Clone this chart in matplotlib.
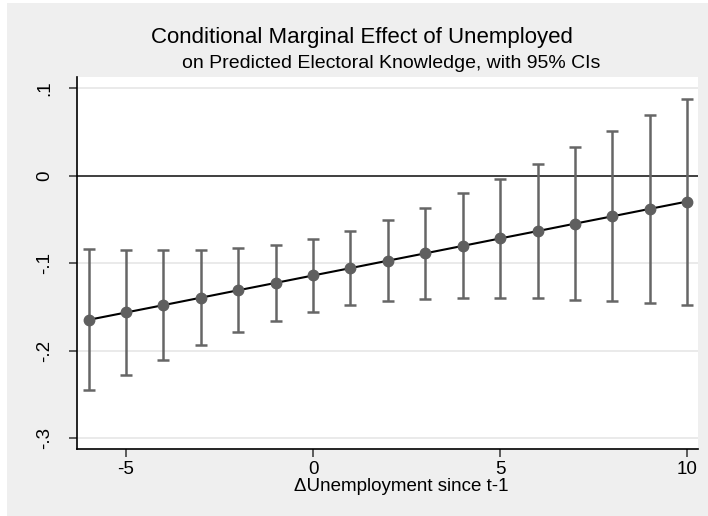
import matplotlib
matplotlib.use("Agg")
import matplotlib.pyplot as plt
from matplotlib.patches import Rectangle

plt.rcParams['font.family'] = ['Liberation Sans', 'DejaVu Sans']

# Change in unemployment since t-1
unemp_change = [-6, -5, -4, -3, -2, -1, 0, 1, 2, 3, 4, 5, 6, 7, 8, 9, 10]
# Marginal effect of being unemployed on predicted electoral knowledge
effect = [-0.1646, -0.1562, -0.1478, -0.1393, -0.1308, -0.1224, -0.1139, -0.1055,
          -0.0970, -0.0886, -0.0801, -0.0716, -0.0632, -0.0547, -0.0463, -0.0378, -0.0294]
ci_low = [-0.2453, -0.2278, -0.2106, -0.1939, -0.1790, -0.1657, -0.1554, -0.1482,
          -0.1431, -0.1409, -0.1398, -0.1398, -0.1402, -0.1417, -0.1432, -0.1451, -0.1471]
ci_high = [-0.0838, -0.0846, -0.0850, -0.0846, -0.0827, -0.0789, -0.0724, -0.0632,
           -0.0507, -0.0366, -0.0202, -0.0038, 0.0137, 0.0324, 0.0514, 0.0697, 0.0880]

xticks = [-5, 0, 5, 10]
yticks = [0.1, 0, -0.1, -0.2, -0.3]
yticklabels = [".1", "0", "-.1", "-.2", "-.3"]

W, H = 708, 516
fig = plt.figure(figsize=(W / 100, H / 100), dpi=100)
fig.patch.set_facecolor("white")
# light gray graph region with a thin white border on the left and top
fig.patches.append(Rectangle((7 / W, 0), 1, 1 - 3 / H, transform=fig.transFigure,
                             facecolor="#efefef", edgecolor="none", zorder=-10))

ax = fig.add_axes([77 / W, 1 - 449 / H, (698 - 77) / W, (449 - 77) / H])
ax.set_facecolor("white")

ax.set_xlim(-6.31, 10.29)
ax.set_ylim(-0.3122, 0.1129)

for y in yticks:
    ax.axhline(y, color="#e6e6e6", lw=1.2, zorder=0)
ax.axhline(0, color="#333333", lw=1.3, zorder=1)

lo_err = [e - l for e, l in zip(effect, ci_low)]
hi_err = [h - e for e, h in zip(effect, ci_high)]
ax.errorbar(unemp_change, effect, yerr=[lo_err, hi_err], fmt="none",
            ecolor="#666666", elinewidth=1.8, capsize=4, capthick=1.8, zorder=2)
ax.plot(unemp_change, effect, color="black", lw=1.5, zorder=3)
ax.plot(unemp_change, effect, "o", color="#5f5f5f", ms=7.5, mec="#5f5f5f", zorder=4)

for side in ("top", "right"):
    ax.spines[side].set_visible(False)
for side in ("left", "bottom"):
    ax.spines[side].set_color("black")
    ax.spines[side].set_linewidth(1.2)

ax.set_xticks(xticks)
ax.set_xticklabels([str(t) for t in xticks])
ax.set_yticks(yticks)
ax.set_yticklabels(yticklabels, rotation=90, va="center")
ax.tick_params(axis="both", direction="out", length=6, width=1.1, color="#333333",
               labelsize=13.5, labelcolor="black")
ax.tick_params(axis="x", pad=3)
ax.tick_params(axis="y", pad=11)

ax.set_xlabel("\u0394Unemployment since t-1", fontsize=13.5, labelpad=0)
ax.xaxis.set_label_coords((401 - 77) / (698 - 77), -(478 - 449) / (449 - 77))

fig.text(362 / W, 1 - 37 / H, "Conditional Marginal Effect of Unemployed",
         ha="center", va="center", fontsize=16)
fig.text(391 / W, 1 - 63 / H, "on Predicted Electoral Knowledge, with 95% CIs",
         ha="center", va="center", fontsize=14)

fig.savefig("out.png", dpi=100, facecolor=fig.get_facecolor())
